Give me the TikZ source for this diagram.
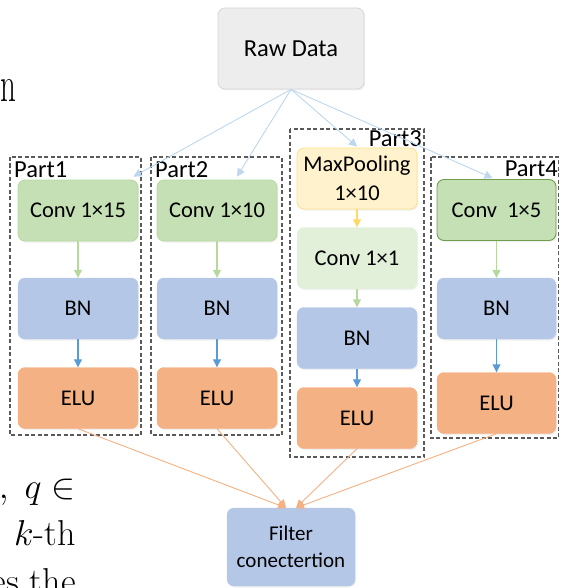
\documentclass[tikz,border=0pt]{standalone}
\usepackage{fontspec}
\newfontfamily\calibri{Carlito}
\usetikzlibrary{arrows.meta,shadows}

\definecolor{rawfill}{HTML}{EDEDED}
\definecolor{rawdraw}{HTML}{D6D6D6}
\definecolor{convfill}{HTML}{C5E0B4}
\definecolor{convdraw}{HTML}{B7D9A2}
\definecolor{convdark}{HTML}{6E9E50}
\definecolor{pale}{HTML}{E2F0D9}
\definecolor{bnfill}{HTML}{B4C7E7}
\definecolor{elufill}{HTML}{F4B183}
\definecolor{poolfill}{HTML}{FFF2CC}
\definecolor{pooldraw}{HTML}{FFE08A}
\definecolor{skyline}{HTML}{BDD7EE}
\definecolor{greenline}{HTML}{B5D99C}
\definecolor{blueline}{HTML}{5B9BD5}
\definecolor{yellowline}{HTML}{FFD966}
\definecolor{orangeline}{HTML}{F4B183}
\definecolor{frame}{HTML}{5A5A5A}

\tikzset{
  block/.style={rectangle, rounded corners=7pt, minimum width=120pt, minimum height=61pt,
    inner sep=2pt, align=center, font=\calibri\fontsize{22.5}{29}\selectfont,
    drop shadow={opacity=0.12, shadow xshift=1pt, shadow yshift=-1.5pt}},
  rawbox/.style={block, fill=rawfill, draw=rawdraw, line width=0.8pt},
  convbox/.style={block, fill=convfill, draw=convdraw, line width=0.8pt},
  convdarkbox/.style={block, fill=convfill, draw=convdark, line width=0.9pt},
  palebox/.style={block, fill=pale, draw=pale},
  bnbox/.style={block, fill=bnfill, draw=bnfill},
  elubox/.style={block, fill=elufill, draw=elufill},
  poolbox/.style={block, fill=poolfill, draw=pooldraw, line width=0.8pt},
  partframe/.style={draw=frame, dashed, dash pattern=on 4pt off 2.5pt, line width=1.2pt},
  partlabel/.style={inner sep=0pt, font=\calibri\fontsize{24.5}{24.5}\selectfont},
  tip/.style={-{Triangle[length=8pt,width=8pt]}, line width=1.1pt},
  % page text: set at a size the math fonts provide, then enlarged
  pagetext/.style={inner sep=0pt, anchor=base east, scale=1.447,
    font=\fontsize{24.88}{30}\selectfont}
}

\begin{document}
\begin{tikzpicture}[x=1pt, y=-1pt]
  \useasboundingbox (0,0) rectangle (560,588);
  \clip (0,0) rectangle (560,588);

  % running text of the surrounding page
  \node[inner sep=0pt, anchor=base east, font=\fontsize{50}{50}\selectfont, xscale=0.62] (pn) at (16,102) {n};
  \node[pagetext] (pq) at (76,498) {$,\;q \in$};
  \node[pagetext] (pk) at (76,545) {$k$-th};
  \node[pagetext] (ps) at (76,593) {es the};

  % dashed frames of the four branches
  \draw[partframe] (10,157) rectangle (141,435);
  \draw[partframe] (151,157) rectangle (282,435);
  \draw[partframe] (290,129) rectangle (424,457);
  \draw[partframe] (431,157) rectangle (558.5,438);
  \node[partlabel, anchor=base west] (l1) at (14,177) {Part1};
  \node[partlabel, anchor=base west] (l2) at (155,177) {Part2};
  \node[partlabel, anchor=base east] (l3) at (422,147) {Part3};
  \node[partlabel, anchor=base east] (l4) at (558,176) {Part4};

  % input
  \node[rawbox, minimum width=146pt, minimum height=81pt, font=\calibri\fontsize{24.5}{29}\selectfont]
    (raw) at (291,48.5) {Raw Data};

  % branch 1
  \node[convbox] (c1) at (78,210.5) {Conv 1×15};
  \node[bnbox]   (b1) at (78,308.5) {BN};
  \node[elubox]  (e1) at (78,398) {ELU};
  % branch 2
  \node[convbox] (c2) at (217,210.5) {Conv 1×10};
  \node[bnbox]   (b2) at (217,308.5) {BN};
  \node[elubox]  (e2) at (217,398) {ELU};
  % branch 3
  \node[poolbox] (m3) at (357,178.5) {MaxPooling\\1×10};
  \node[palebox] (c3) at (357,258) {Conv 1×1};
  \node[bnbox]   (b3) at (357,338) {BN};
  \node[elubox]  (e3) at (357,418) {ELU};
  % branch 4
  \node[convdarkbox, minimum width=119pt] (c4) at (496.5,210) {Conv~~1×5};
  \node[bnbox, minimum width=119pt]       (b4) at (496.5,308.5) {BN};
  \node[elubox, minimum width=119pt]      (e4) at (496.5,403) {ELU};

  % output
  \node[bnbox, minimum width=128pt, minimum height=78pt, font=\calibri\fontsize{21}{27}\selectfont]
    (f) at (291,547) {Filter\\conectertion};

  % input to branches
  \draw[tip, skyline, line width=0.9pt] (raw.south) -- ([xshift=-5pt, yshift=3pt]c1.north east);
  \draw[tip, skyline, line width=0.9pt] (raw.south) -- ([xshift=20pt, yshift=3pt]c2.north);
  \draw[tip, skyline, line width=0.9pt] (raw.south) -- ([yshift=1pt]m3.north);
  \draw[tip, skyline, line width=0.9pt] (raw.south) -- ([xshift=-4pt, yshift=1pt]c4.north);

  % inside the branches
  \foreach \i in {1,2,4} {
    \draw[tip, greenline] (c\i) -- (b\i);
    \draw[tip, blueline] (b\i) -- (e\i);
  }
  \draw[tip, yellowline] (m3) -- (c3);
  \draw[tip, greenline] (c3) -- (b3);
  \draw[tip, blueline] (b3) -- (e3);

  % branches to concatenation
  \draw[tip, orangeline, line width=0.9pt] (e1.south) -- ([xshift=-5pt]f.north);
  \draw[tip, orangeline, line width=0.9pt] (e2.south) -- ([xshift=-5pt]f.north);
  \draw[tip, orangeline, line width=0.9pt] (e3.south) -- ([xshift=5pt]f.north);
  \draw[tip, orangeline, line width=0.9pt] (e4.south) -- ([xshift=5pt]f.north);
\end{tikzpicture}
\end{document}
